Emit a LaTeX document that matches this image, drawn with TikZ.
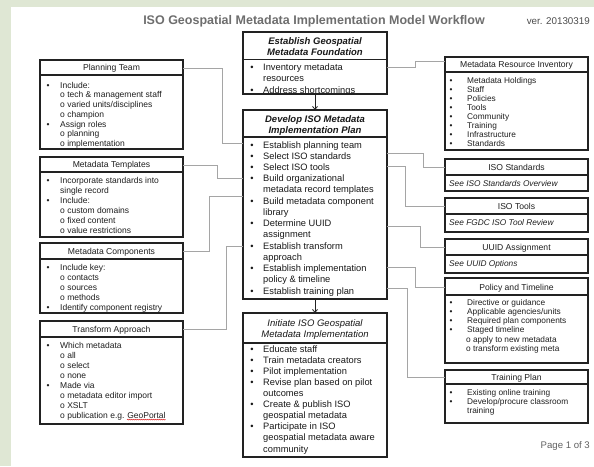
\documentclass[tikz,border=0pt]{standalone}
\usepackage{fontspec}
\setmainfont{Liberation Sans}
\usetikzlibrary{arrows.meta,decorations.pathmorphing}
\definecolor{bggreen}{HTML}{DFE7D4}
\definecolor{titlegray}{HTML}{6E6E6E}
\definecolor{linegray}{HTML}{A5A5A5}
\definecolor{boxline}{HTML}{222222}
\newcommand\BL[6]{%
 \node[#1,anchor=base] (#2b) at (#3,#5+3) {\textbullet};
 \node[#1,anchor=base west] (#2) at (#4,#5+3) {#6};}
\newcommand\TL[5]{%
 \node[#1,anchor=base west] (#2) at (#3,#4+3) {#5};}
\newcommand\HD[5]{%
 \node[#1,anchor=base] (#2) at (#3,#4+3) {#5};}
\tikzset{
 box/.style={draw=boxline, line width=1.2pt, fill=white, inner sep=0pt, outer sep=0pt, anchor=north west},
 sepl/.style={draw=boxline, line width=1.1pt},
 conn/.style={draw=linegray, line width=0.6pt},
 arr/.style={draw=boxline, line width=0.8pt, -{Straight Barb[length=3pt,width=5pt]}},
 tm/.style={font=\fontsize{9.3}{11}\selectfont, inner sep=0pt, text=black!90},
 mh/.style={font=\fontsize{9.5}{11}\selectfont\bfseries\itshape, inner sep=0pt, text=black!90},
 mi/.style={font=\fontsize{9.5}{11}\selectfont\itshape, inner sep=0pt, text=black!90},
 tl/.style={font=\fontsize{8.5}{10}\selectfont, inner sep=0pt, text=black!88},
 tr/.style={font=\fontsize{8.3}{9}\selectfont, inner sep=0pt, text=black!88},
 tri/.style={font=\fontsize{8.3}{9}\selectfont\itshape, inner sep=0pt, text=black!88},
 hd/.style={font=\fontsize{8.6}{10}\selectfont, inner sep=0pt, text=black!88},
}
\begin{document}
\begin{tikzpicture}[x=1pt,y=-1pt]
\useasboundingbox (0,0) rectangle (594,466);
\fill[bggreen] (0,0) rectangle (594,466);
\fill[white] (11,7) rectangle (594,466);

% title
\node[font=\fontsize{12.5}{14}\selectfont\bfseries, text=titlegray, inner sep=0pt, anchor=base] (title) at (314,24.5) {ISO Geospatial Metadata Implementation Model Workflow};
\node[font=\fontsize{9.8}{11}\selectfont, text=black!70, inner sep=0pt, anchor=base east] (ver) at (590,24) {ver. 20130319};
\node[font=\fontsize{9.6}{11}\selectfont, text=black!62, inner sep=0pt, anchor=base east] (page) at (590,448) {Page 1 of 3};

% ---------- boxes ----------
% main column
\node[box, minimum width=144pt, minimum height=62pt] (est) at (243,32) {};
\node[box, minimum width=144pt, minimum height=189pt] (dev) at (243,110) {};
\node[box, minimum width=144pt, minimum height=144pt] (ini) at (243,313) {};
% left column
\node[box, minimum width=143pt, minimum height=89pt] (pt) at (40,60) {};
\node[box, minimum width=143pt, minimum height=80pt] (mt) at (40,157) {};
\node[box, minimum width=143pt, minimum height=70pt] (mc) at (40,243) {};
\node[box, minimum width=143pt, minimum height=103pt] (ta) at (40,321) {};
% right column
\node[box, minimum width=143pt, minimum height=93pt] (mri) at (445,57) {};
\node[box, minimum width=143pt, minimum height=32pt] (std) at (445,159) {};
\node[box, minimum width=143pt, minimum height=34pt] (tools) at (445,198) {};
\node[box, minimum width=143pt, minimum height=34pt] (uuid) at (445,239) {};
\node[box, minimum width=143pt, minimum height=85pt] (pol) at (445,278) {};
\node[box, minimum width=143pt, minimum height=53pt] (tr) at (445,370) {};

% separators
\draw[sepl] (est.west |- 0,59.5) -- (est.east |- 0,59.5);
\draw[sepl] (dev.west |- 0,137) -- (dev.east |- 0,137);
\draw[sepl] (ini.west |- 0,343) -- (ini.east |- 0,343);
\draw[sepl] (pt.west |- 0,75) -- (pt.east |- 0,75);
\draw[sepl] (mt.west |- 0,172) -- (mt.east |- 0,172);
\draw[sepl] (mc.west |- 0,259) -- (mc.east |- 0,259);
\draw[sepl] (ta.west |- 0,337) -- (ta.east |- 0,337);
\draw[sepl] (mri.west |- 0,72) -- (mri.east |- 0,72);
\draw[sepl] (std.west |- 0,175) -- (std.east |- 0,175);
\draw[sepl] (tools.west |- 0,214) -- (tools.east |- 0,214);
\draw[sepl] (uuid.west |- 0,255) -- (uuid.east |- 0,255);
\draw[sepl] (pol.west |- 0,295) -- (pol.east |- 0,295);
\draw[sepl] (tr.west |- 0,384) -- (tr.east |- 0,384);

% ---------- main column texts ----------
\HD{mh}{estH1}{315}{41}{Establish Geospatial}
\HD{mh}{estH2}{315}{52}{Metadata Foundation}
\begin{scope}
\clip (244,60) rectangle (386,93.4);
\BL{tm}{est1}{252}{263}{67.5}{Inventory metadata}
\TL{tm}{est2}{263}{78.5}{resources}
\BL{tm}{est3}{252}{263}{90}{Address shortcomings}
\end{scope}

\HD{mh}{devH1}{315}{119}{Develop ISO Metadata}
\HD{mh}{devH2}{315}{130}{Implementation Plan}
\BL{tm}{dev1}{252}{263}{145}{Establish planning team}
\BL{tm}{dev2}{252}{263}{156.2}{Select ISO standards}
\BL{tm}{dev3}{252}{263}{167.5}{Select ISO tools}
\BL{tm}{dev4}{252}{263}{178.7}{Build organizational}
\TL{tm}{dev5}{263}{189.9}{metadata record templates}
\BL{tm}{dev6}{252}{263}{201.2}{Build metadata component}
\TL{tm}{dev7}{263}{212.4}{library}
\BL{tm}{dev8}{252}{263}{223.6}{Determine UUID}
\TL{tm}{dev9}{263}{234.8}{assignment}
\BL{tm}{dev10}{252}{263}{246.1}{Establish transform}
\TL{tm}{dev11}{263}{257.3}{approach}
\BL{tm}{dev12}{252}{263}{268.5}{Establish implementation}
\TL{tm}{dev13}{263}{279.8}{policy \& timeline}
\BL{tm}{dev14}{252}{263}{291}{Establish training plan}

\HD{mi}{iniH1}{315}{323}{Initiate ISO Geospatial}
\HD{mi}{iniH2}{315}{334}{Metadata Implementation}
\BL{tm}{ini1}{252}{263}{349}{Educate staff}
\BL{tm}{ini2}{252}{263}{360.1}{Train metadata creators}
\BL{tm}{ini3}{252}{263}{371.2}{Pilot implementation}
\BL{tm}{ini4}{252}{263}{382.3}{Revise plan based on pilot}
\TL{tm}{ini5}{263}{393.4}{outcomes}
\BL{tm}{ini6}{252}{263}{404.6}{Create \& publish ISO}
\TL{tm}{ini7}{263}{415.7}{geospatial metadata}
\BL{tm}{ini8}{252}{263}{426.8}{Participate in ISO}
\TL{tm}{ini9}{263}{437.9}{geospatial metadata aware}
\TL{tm}{ini10}{263}{449}{community}

% ---------- left column texts ----------
\HD{hd}{ptH}{111.5}{67.5}{Planning Team}
\BL{tl}{pt1}{48}{60}{85}{Include:}
\TL{tl}{pt2}{60}{94.5}{o tech \& management staff}
\TL{tl}{pt3}{60}{104}{o varied units/disciplines}
\TL{tl}{pt4}{60}{114}{o champion}
\BL{tl}{pt5}{48}{60}{124}{Assign roles}
\TL{tl}{pt6}{60}{133.5}{o planning}
\TL{tl}{pt7}{60}{143}{o implementation}

\HD{hd}{mtH}{111.5}{164.5}{Metadata Templates}
\BL{tl}{mt1}{48}{60}{180}{Incorporate standards into}
\TL{tl}{mt2}{60}{190}{single record}
\BL{tl}{mt3}{48}{60}{200}{Include:}
\TL{tl}{mt4}{60}{210}{o custom domains}
\TL{tl}{mt5}{60}{220}{o fixed content}
\TL{tl}{mt6}{60}{230}{o value restrictions}

\HD{hd}{mcH}{111.5}{251}{Metadata Components}
\BL{tl}{mc1}{48}{60}{267}{Include key:}
\TL{tl}{mc2}{60}{277}{o contacts}
\TL{tl}{mc3}{60}{287}{o sources}
\TL{tl}{mc4}{60}{297}{o methods}
\BL{tl}{mc5}{48}{60}{307}{Identify component registry}

\HD{hd}{taH}{111.5}{329}{Transform Approach}
\BL{tl}{ta1}{48}{60}{345}{Which metadata}
\TL{tl}{ta2}{60}{355}{o all}
\TL{tl}{ta3}{60}{365}{o select}
\TL{tl}{ta4}{60}{375}{o none}
\BL{tl}{ta5}{48}{60}{385}{Made via}
\TL{tl}{ta6}{60}{395}{o metadata editor import}
\TL{tl}{ta7}{60}{405}{o XSLT}
\TL{tl}{ta8}{60}{415}{o publication e.g.}
\node[tl, anchor=base west] (ta8g) at ([xshift=2.4pt]ta8.base east) {GeoPortal};
\draw[red!85!black, line width=0.4pt, decorate, decoration={snake, amplitude=0.45pt, segment length=2pt}]
  ([yshift=-1.6pt]ta8g.base west) -- ([yshift=-1.6pt]ta8g.base east);

% ---------- right column texts ----------
\HD{hd}{mriH}{516.5}{64.5}{Metadata Resource Inventory}
\BL{tr}{mri1}{451}{467}{80}{Metadata Holdings}
\BL{tr}{mri2}{451}{467}{89}{Staff}
\BL{tr}{mri3}{451}{467}{98}{Policies}
\BL{tr}{mri4}{451}{467}{107}{Tools}
\BL{tr}{mri5}{451}{467}{116}{Community}
\BL{tr}{mri6}{451}{467}{125}{Training}
\BL{tr}{mri7}{451}{467}{134}{Infrastructure}
\BL{tr}{mri8}{451}{467}{143}{Standards}

\HD{hd}{stdH}{516.5}{167}{ISO Standards}
\TL{tri}{std1}{449}{183}{See ISO Standards Overview}
\HD{hd}{toolsH}{516.5}{206}{ISO Tools}
\TL{tri}{tools1}{449}{222}{See FGDC ISO Tool Review}
\HD{hd}{uuidH}{516.5}{247}{UUID Assignment}
\TL{tri}{uuid1}{449}{263}{See UUID Options}

\HD{hd}{polH}{516.5}{287}{Policy and Timeline}
\BL{tr}{pol1}{451}{467}{302}{Directive or guidance}
\BL{tr}{pol2}{451}{467}{311.2}{Applicable agencies/units}
\BL{tr}{pol3}{451}{467}{320.4}{Required plan components}
\BL{tr}{pol4}{451}{467}{329.6}{Staged timeline}
\TL{tr}{pol5}{466}{339}{o apply to new metadata}
\TL{tr}{pol6}{466}{348}{o transform existing meta}

\HD{hd}{trH}{516.5}{377}{Training Plan}
\BL{tr}{tr1}{451}{467}{392}{Existing online training}
\BL{tr}{tr2}{451}{467}{401}{Develop/procure classroom}
\TL{tr}{tr3}{467}{410}{training}

% ---------- connectors ----------
\coordinate (cPT) at (222,143);
\coordinate (cMT) at (217,178);
\coordinate (cMC) at (209,196);
\coordinate (cTA) at (226,246);
\draw[conn] (pt.east |- ptH) -| (cPT) -- (dev.west |- cPT);
\draw[conn] (mt.east |- mtH) -| (cMT) -- (dev.west |- cMT);
\draw[conn] (mc.east |- mcH) -| (cMC) -- (dev.west |- cMC);
\draw[conn] (ta.east |- taH) -| (cTA) -- (dev.west |- cTA);

\coordinate (cMRI) at (415,67);
\coordinate (cMRIy) at (0,61);
\coordinate (cStd) at (423,153);
\coordinate (cTools) at (405,166);
\coordinate (cUUID) at (420,226);
\coordinate (cPol) at (415,267);
\coordinate (cTr) at (407,288);
\draw[conn] (est.east |- cMRI) -- (cMRI) |- (mri.west |- cMRIy);
\draw[conn] (dev.east |- cStd) -- (cStd) |- (std.west |- stdH);
\draw[conn] (dev.east |- cTools) -- (cTools) |- (tools.west |- toolsH);
\draw[conn] (dev.east |- cUUID) -- (cUUID) |- (uuid.west |- uuidH);
\draw[conn] (dev.east |- cPol) -- (cPol) |- (pol.west |- polH);
\draw[conn] (dev.east |- cTr) -- (cTr) |- (tr.west |- trH);

% arrows
\draw[arr] (est.south) -- (dev.north);
\draw[arr] (dev.south) -- (ini.north);
\end{tikzpicture}
\end{document}
